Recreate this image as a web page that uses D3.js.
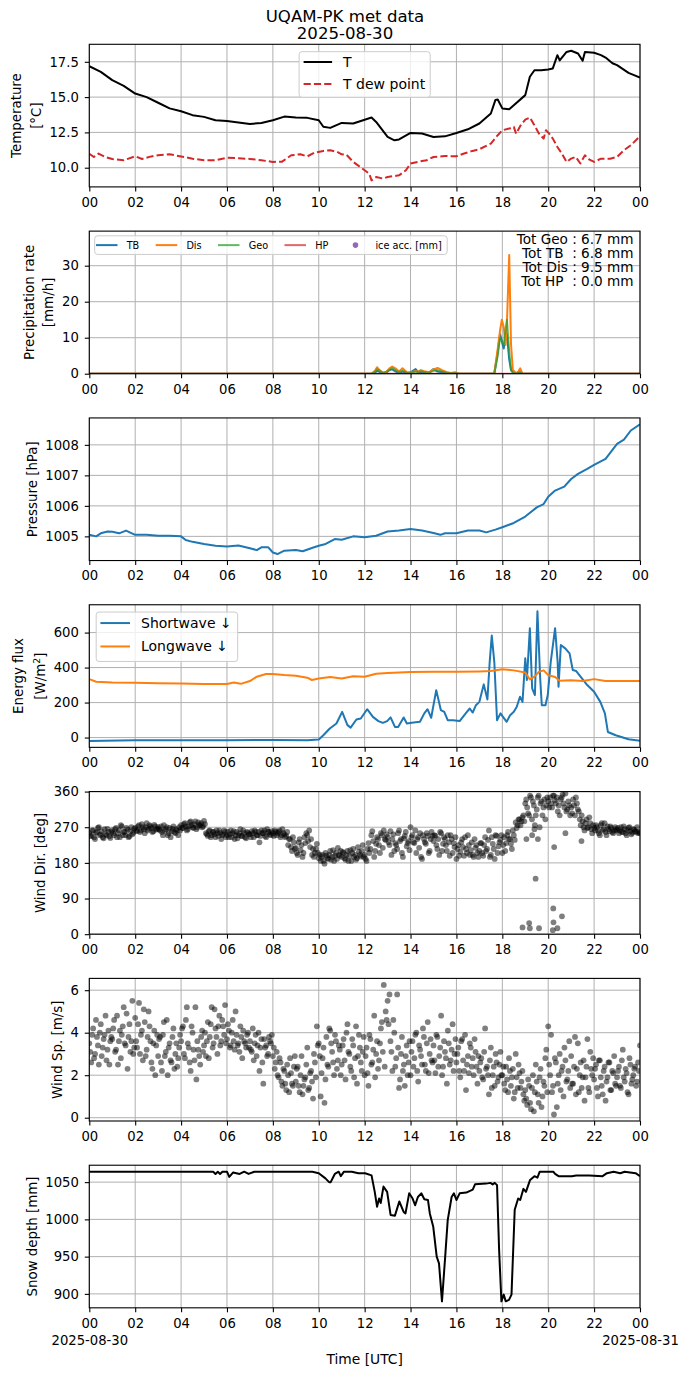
<!DOCTYPE html>
<html>
<head>
<meta charset="utf-8">
<script src="https://cdn.jsdelivr.net/npm/d3@7"></script>
<style>
	body { margin: 0; background: #fff; }
	svg { display: block; font-family: "DejaVu Sans", sans-serif; }
	.pre { white-space: pre; }
</style>
</head>
<body>
<svg id="fig" width="690" height="1377"></svg>
<script>
// ---- x axis (hours UTC) ----
const hourTicks = [0, 2, 4, 6, 8, 10, 12, 14, 16, 18, 20, 22, 24];
const hourLabels = ['00', '02', '04', '06', '08', '10', '12', '14', '16', '18', '20', '22', '00'];

// ---- y ticks ----
const tempTicks = [10, 12.5, 15, 17.5];
const precipTicks = [0, 10, 20, 30];
const presTicks = [1005, 1006, 1007, 1008];
const fluxTicks = [0, 200, 400, 600];
const dirTicks = [0, 90, 180, 270, 360];
const speedTicks = [0, 2, 4, 6];
const snowTicks = [900, 950, 1000, 1050];

// ---- temperature ----
const tHours = [0,0.5,1,1.5,2,2.5,3,3.5,4,4.5,5,5.5,6,6.5,7,7.5,8,8.5,9,9.5,10,10.2,10.5,11,11.5,12,12.3,12.5,13,13.3,13.5,14,14.5,15,15.5,16,16.5,17,17.5,17.7,17.8,18,18.3,18.5,19,19.2,19.4,19.7,20,20.2,20.4,20.5,20.8,21,21.3,21.5,21.6,22,22.3,22.5,22.8,23,23.5,24];
const tVals = [17.19,16.79,16.2,15.8,15.25,15.0,14.6,14.2,14.0,13.72,13.6,13.36,13.3,13.2,13.1,13.17,13.36,13.62,13.55,13.53,13.36,12.9,12.82,13.17,13.13,13.4,13.55,13.24,12.18,11.94,12.0,12.46,12.42,12.18,12.22,12.46,12.72,13.13,13.84,14.8,14.83,14.2,14.14,14.43,15.14,16.44,16.9,16.9,16.96,17.03,17.97,17.6,18.2,18.28,18.09,17.57,18.2,18.14,17.97,17.8,17.4,17.26,16.72,16.39];
const tdHours = [0,0.2,0.4,0.7,1,1.5,2,2.3,2.7,3,3.5,4,4.5,5,5.5,6,6.5,7,7.5,8,8.4,8.8,9.2,9.5,9.8,10.2,10.5,10.8,11,11.2,11.5,12,12.2,12.3,12.5,12.8,13,13.5,13.8,14,14.3,14.7,15,15.5,16,16.3,16.7,17,17.5,17.8,18,18.3,18.5,18.6,18.8,19,19.2,19.4,19.6,19.8,19.9,20,20.2,20.4,20.6,20.8,21,21.2,21.4,21.6,21.8,22,22.3,22.7,23,23.3,23.6,24];
const tdVals = [10.99,10.76,11.0,10.76,10.62,10.53,10.81,10.62,10.8,10.88,10.95,10.8,10.64,10.53,10.53,10.7,10.67,10.62,10.53,10.41,10.43,10.88,10.95,10.8,11.05,11.19,11.24,11.12,10.95,10.93,10.41,9.82,9.58,9.1,9.34,9.23,9.34,9.46,9.82,10.3,10.41,10.53,10.76,10.83,10.81,10.99,11.19,11.31,11.71,12.3,12.65,12.77,12.89,12.41,13.0,13.41,13.55,13.0,12.41,12.06,12.65,12.5,12.06,11.47,10.99,10.41,10.64,10.76,10.3,10.88,10.57,10.41,10.64,10.64,10.76,11.24,11.59,12.23];

// ---- precipitation rate [mm/h] ----
const precipHours = [0,12.3,12.45,12.54,12.65,12.8,12.95,13.07,13.2,13.36,13.5,13.65,13.84,14.0,14.22,14.32,14.45,14.6,14.8,15.0,15.18,15.37,15.56,15.75,15.95,16.1,17.65,17.8,17.9,17.98,18.06,18.14,18.2,18.3,18.38,18.46,18.6,18.7,18.78,18.88,24];
const precipTB  = [0,0,0.3,0.8,0.5,0.1,0.3,1.0,1.2,0.6,0.2,0.6,0.2,0.4,1.3,0.5,0.4,0.3,0.2,1.3,0.6,0.4,0.2,0,0.1,0,0,6,11,9,7,10,11,4,1,0.5,0,0.2,0.3,0,0];
const precipDis = [0,0,0.8,1.8,1.0,0.3,0.5,1.4,2.0,1.4,0.6,1.5,0.4,0.3,0.8,0.5,1.0,0.7,0.4,1.2,1.6,1.0,0.5,0.2,0.4,0,0,7,12,15,13,8,14,33,8,1,0.2,0.6,1.5,0,0];
const precipGeo = [0,0,0.5,1.2,0.8,0.2,0.6,1.0,1.5,0.9,0.4,0.8,0.3,0.2,0.6,0.4,0.7,0.5,0.3,0.8,1.0,0.6,0.3,0.1,0.2,0,0,5,10,9,8,12,15,6,1,0.3,0,0.3,0.5,0,0];
const precipHP  = [0,0,0,0,0,0,0,0,0,0,0,0,0,0,0,0,0,0,0,0,0,0,0,0,0,0,0,0,0,0,0,0,0,0,0,0,0,0,0,0,0];
const precipTotals = ['Tot Geo : 6.7 mm', 'Tot TB  : 6.8 mm', 'Tot Dis : 9.5 mm', 'Tot HP  : 0.0 mm'];

// ---- pressure [hPa] ----
const pHours = [0,0.3,0.5,0.8,1,1.3,1.6,2,2.5,3,3.5,4,4.2,4.5,5,5.5,6,6.5,7,7.3,7.5,7.8,8,8.2,8.5,9,9.3,9.7,10,10.3,10.7,11,11.5,12,12.5,13,13.5,14,14.5,15,15.3,15.5,16,16.5,17,17.3,17.7,18,18.5,19,19.5,19.8,20,20.3,20.7,21,21.3,21.7,22,22.5,23,23.3,23.6,24];
const pVals = [1005.05,1005.0,1005.1,1005.16,1005.15,1005.1,1005.19,1005.05,1005.05,1005.02,1005.02,1005.0,1004.88,1004.82,1004.75,1004.69,1004.67,1004.7,1004.61,1004.55,1004.64,1004.64,1004.47,1004.42,1004.53,1004.55,1004.51,1004.62,1004.69,1004.75,1004.91,1004.89,1005.0,1004.97,1005.02,1005.16,1005.19,1005.24,1005.19,1005.11,1005.05,1005.1,1005.1,1005.19,1005.19,1005.13,1005.22,1005.3,1005.44,1005.65,1005.95,1006.06,1006.3,1006.5,1006.63,1006.88,1007.05,1007.21,1007.34,1007.54,1008.03,1008.17,1008.47,1008.67];

// ---- energy flux [W/m2] ----
const swHours = [0,2,4,6,8,9.5,10,10.2,10.48,10.77,11.02,11.25,11.39,11.64,11.83,12.11,12.36,12.6,12.79,12.98,13.13,13.32,13.46,13.7,13.84,14.13,14.41,14.6,14.74,14.9,15.12,15.32,15.47,15.62,15.85,16.14,16.43,16.58,16.71,16.85,17.0,17.19,17.35,17.45,17.54,17.65,17.77,17.92,18.06,18.19,18.34,18.5,18.63,18.77,18.88,19.0,19.07,19.2,19.3,19.42,19.53,19.65,19.72,19.88,19.98,20.11,20.3,20.41,20.45,20.55,20.74,20.93,21.07,21.22,21.41,21.7,22.0,22.27,22.47,22.6,22.94,23.5,24];
const swVals = [-19,-15,-16,-15,-14,-16,-11,13,52,80,147,71,57,103,109,162,118,94,84,94,115,61,61,115,80,86,90,138,162,113,271,157,147,99,99,94,143,166,143,185,204,304,218,433,583,433,99,138,113,90,128,147,176,233,204,453,329,625,281,243,722,338,185,185,243,433,625,433,290,529,510,481,386,380,348,300,262,204,138,32,13,-10,-19];
const lwHours = [0,0.3,1,2,3,4,5,6,6.3,6.6,7,7.3,7.7,8,8.5,9,9.5,9.7,10,10.5,11,11.5,12,12.5,13,14,15,16,17,17.5,18,18.5,19,19.2,19.4,19.6,19.8,20,20.3,20.5,21,21.5,22,22.5,23,24];
const lwVals = [334,319,315,313,311,309,306,306,315,307,323,348,363,363,357,353,342,329,338,346,338,351,348,365,369,374,376,376,378,380,390,384,372,332,348,376,384,357,346,325,327,323,334,323,323,323];

// ---- wind direction [deg], 5-min samples (A) and the sample 2.5 min later (B) ----
const windDirA = [
	255,248,262,240,258,270,252,245,265,250,258,243,
	262,250,268,255,245,272,258,250,264,247,270,256,
	268,260,275,262,270,255,280,266,272,258,276,264,
	270,262,258,275,265,250,268,260,272,255,262,270,
	275,268,280,262,272,285,270,278,265,282,275,270,
	286,255,248,262,250,258,245,255,262,240,252,258,
	250,245,262,255,240,258,250,265,248,255,242,256,
	252,260,245,258,250,232,262,255,248,265,258,250,
	255,262,250,258,245,265,252,248,225,240,210,232,
	218,200,240,225,205,230,250,262,240,215,205,228,
	192,185,200,178,198,190,210,195,185,205,218,198,
	195,205,188,210,198,185,215,200,192,208,196,225,
	200,185,230,215,260,195,228,240,205,250,262,238,
	245,225,200,252,230,215,262,240,195,248,222,235,
	270,250,230,205,245,255,190,240,228,248,210,258,
	235,248,215,200,255,228,240,210,232,250,205,220,
	190,225,208,240,198,215,250,200,232,195,218,205,
	210,230,198,245,215,262,200,228,190,248,222,238,
	205,245,230,258,240,215,250,282,275,290,285,300,
	330,320,300,345,335,275,315,350,330,300,340,325,
	335,345,320,350,330,310,300,345,330,355,315,325,
	320,340,300,330,310,275,285,262,290,270,280,255,
	268,275,262,250,280,265,258,272,260,268,255,270,
	262,255,270,258,265,250,268,260,256,264,258,255
];
const windDirB = [
	248,262,245,256,268,250,260,242,252,266,247,258,
	255,265,245,262,275,250,258,268,245,260,252,266,
	262,272,258,278,265,270,262,275,268,260,272,266,
	265,272,250,262,270,255,245,266,258,265,250,262,
	268,278,272,265,282,275,268,285,270,276,280,272,
	278,252,260,245,258,252,262,248,256,250,262,245,
	258,252,245,260,250,242,255,248,262,245,258,252,
	245,255,262,250,258,248,255,262,245,258,252,260,
	248,258,255,262,250,255,245,258,240,220,245,215,
	205,232,212,195,245,255,235,220,200,195,215,205,
	200,195,185,205,192,200,188,212,198,190,200,210,
	208,192,200,185,212,205,195,188,220,200,210,195,
	190,215,205,250,235,210,245,225,255,218,240,252,
	232,260,240,210,225,255,235,205,242,258,230,212,
	245,232,262,240,218,195,250,232,255,205,240,248,
	250,225,240,258,210,245,225,250,198,240,230,245,
	215,198,232,220,245,205,225,212,200,240,225,195,
	230,205,225,210,238,195,245,215,250,205,232,250,
	225,210,250,240,228,262,238,268,290,275,295,285,
	340,305,350,290,325,300,345,270,335,320,290,345,
	320,330,350,338,345,325,340,352,320,310,335,300,
	305,325,345,315,290,300,270,280,268,295,265,275,
	262,270,255,275,262,280,250,265,272,258,262,265,
	268,262,258,272,255,262,270,252,265,260,270,258
];
const windDirExtraHours = [18.88,19.05,19.17,19.2,19.3,19.4,19.45,19.55,19.6,20.2,20.22,20.23,20.26,20.4,20.6,20.75,21.45,24];
const windDirExtra = [17,240,28,15,250,265,140,240,15,10,65,30,220,15,45,255,235,255];

// ---- wind speed [m/s], same sampling ----
const windSpA = [
	3.5,2.6,4.2,3.0,3.8,2.5,4.4,3.3,3.9,2.7,4.1,3.6,
	3.7,4.6,3.2,2.5,4.1,3.9,5.2,3.4,2.3,4.4,3.6,3.0,
	4.7,3.3,5.4,3.9,2.7,4.5,3.2,5.0,3.6,2.3,4.1,3.4,
	2.9,3.8,2.2,4.5,3.1,2.0,3.5,2.6,4.2,3.0,2.4,3.3,
	3.6,4.3,2.8,5.2,3.3,2.2,4.0,2.7,1.8,3.2,2.5,4.1,
	3.4,2.9,4.5,3.8,5.2,3.5,4.2,3.0,4.8,3.6,4.3,5.3,
	3.7,4.1,3.4,4.6,3.2,3.9,3.5,4.3,2.8,3.6,3.3,4.0,
	3.6,3.1,2.7,3.9,3.4,2.2,3.7,1.6,3.3,2.9,3.8,3.5,
	2.9,2.3,3.1,1.9,2.6,1.5,2.2,1.3,2.0,2.8,1.6,2.4,
	1.7,2.4,1.2,2.9,1.5,1.9,3.3,1.4,2.2,0.9,2.6,4.3,
	3.5,1.0,2.8,0.7,3.8,2.4,4.1,3.1,2.0,3.6,2.7,3.2,
	2.5,3.7,1.8,4.4,3.0,2.2,3.4,2.8,1.6,3.9,2.6,3.1,
	2.0,3.3,1.5,3.7,2.6,4.8,3.0,2.3,3.5,4.5,6.25,5.0,
	5.5,5.8,3.1,4.6,2.4,5.8,1.4,3.0,2.2,1.5,3.4,2.6,
	2.0,3.6,2.8,4.0,1.7,3.2,2.5,3.8,2.2,4.5,3.0,2.7,
	3.4,2.1,3.8,2.9,4.8,2.4,3.1,1.6,3.5,2.7,4.4,3.0,
	2.6,3.3,1.9,3.7,2.2,1.3,2.9,3.5,2.4,2.0,3.1,1.6,
	2.2,2.8,1.8,4.2,2.4,1.1,3.3,2.0,1.5,2.6,1.9,3.1,
	2.0,1.6,2.4,1.2,2.2,1.9,0.9,3.0,1.4,2.1,1.7,1.1,
	1.3,0.6,1.5,0.4,2.0,1.2,1.7,0.7,2.3,1.0,1.5,3.2,
	4.3,2.0,1.2,0.15,2.6,1.6,3.0,2.2,1.0,2.7,1.8,3.6,
	2.9,1.6,3.8,2.3,1.2,2.6,1.9,0.8,2.4,1.4,3.1,2.0,
	1.8,2.5,1.0,2.7,1.5,2.2,0.8,1.9,2.6,1.3,2.1,1.6,
	1.9,2.4,1.4,3.2,1.7,2.1,1.1,2.5,1.8,2.3,1.5,2.6
];
const windSpB = [
	3.1,3.9,2.8,4.6,3.4,4.0,2.9,3.7,4.8,3.2,2.5,3.8,
	4.2,3.1,4.8,3.6,2.8,4.3,3.5,4.9,3.8,3.1,5.5,3.3,
	3.6,4.4,3.0,4.1,5.1,2.9,3.8,4.3,2.6,3.5,2.0,3.9,
	3.7,2.6,3.9,2.9,4.6,3.3,2.7,3.8,2.3,3.5,2.8,3.9,
	4.2,3.0,4.6,3.5,2.6,4.3,3.2,5.2,3.6,2.9,3.8,3.1,
	4.0,3.6,2.8,4.4,3.3,5.1,3.8,4.3,3.4,4.6,3.9,3.5,
	4.4,3.3,4.0,3.6,5.0,3.4,3.1,3.8,4.1,3.5,3.9,3.3,
	3.2,4.2,3.5,2.9,4.0,3.3,2.6,3.7,3.4,3.0,3.6,3.9,
	3.3,2.6,2.0,2.8,1.7,2.3,1.6,2.5,1.2,2.1,1.5,2.9,
	2.3,1.5,2.0,1.1,1.8,2.5,1.3,2.1,1.7,3.0,1.9,3.4,
	2.9,2.1,3.3,1.8,2.5,4.2,3.5,2.6,3.9,2.3,3.4,2.0,
	3.4,2.7,4.0,3.1,2.4,3.7,1.9,4.3,2.9,3.3,2.2,3.8,
	2.9,2.1,3.9,2.5,3.2,1.9,3.6,2.7,4.2,3.1,2.4,4.6,
	4.4,3.6,2.2,4.0,2.8,3.3,1.8,3.8,2.5,2.9,2.0,3.6,
	3.1,2.4,3.9,2.2,3.4,2.9,4.2,2.5,3.5,2.1,3.7,2.6,
	2.7,3.9,2.4,3.3,2.0,3.6,2.8,4.1,2.5,3.2,2.2,3.7,
	3.0,2.2,3.6,2.7,3.9,2.5,2.1,3.3,2.8,3.7,2.4,2.9,
	2.6,1.9,3.1,2.3,2.0,2.7,1.4,2.4,3.0,1.7,2.5,2.0,
	2.4,1.3,1.8,2.8,1.5,2.3,1.2,1.9,2.5,1.4,2.2,0.8,
	0.9,1.8,0.7,1.4,0.3,2.5,1.1,1.9,0.5,1.7,2.8,1.2,
	2.5,3.9,1.5,2.8,0.5,2.0,1.3,2.4,3.3,1.7,2.2,1.4,
	1.6,2.4,1.1,3.5,2.0,1.4,2.7,1.9,3.7,1.2,2.3,2.8,
	2.3,1.4,2.7,1.9,1.1,2.4,1.7,2.6,1.3,2.2,2.9,1.5,
	2.2,1.5,2.7,1.9,2.3,1.2,2.8,1.6,2.0,2.4,1.7,2.2
];
const windSpExtraHours = [24];
const windSpExtra = [3.4];

// ---- snow depth [mm] ----
const snowHours = [0,5.4,5.5,5.6,5.7,5.8,6.0,6.1,6.27,6.55,6.75,6.94,7.19,9.72,10.0,10.29,10.45,10.52,10.7,10.87,10.96,11.1,11.44,11.73,12.02,12.3,12.44,12.54,12.63,12.7,12.82,12.98,13.13,13.32,13.51,13.7,13.78,13.94,14.09,14.2,14.32,14.47,14.6,14.76,14.84,14.99,15.14,15.24,15.37,15.51,15.62,15.79,15.89,16.0,16.14,16.43,16.71,16.81,17.29,17.48,17.58,17.67,17.77,17.86,17.96,18.06,18.15,18.29,18.4,18.54,18.69,18.78,18.92,19.03,19.21,19.4,19.53,19.63,20.22,20.3,20.45,21.03,21.22,21.79,22.37,22.56,22.85,23.14,23.33,23.81,24];
const snowVals = [1064,1064,1061,1064,1061,1064,1064,1057,1063,1061,1064,1061,1064,1064,1062,1055,1050,1050,1061,1064,1058,1064,1064,1062,1062,1059,1037,1017,1028,1022,1044,1037,1006,1005,1024,1010,1008,1035,1028,1019,1030,1035,1027,1026,1008,990,950,941,890,950,999,1030,1035,1026,1035,1036,1040,1047,1048,1049,1047,1049,1046,959,890,899,890,892,899,1013,1028,1026,1041,1037,1053,1058,1056,1064,1064,1061,1058,1058,1059,1059,1058,1062,1064,1062,1064,1062,1058];

// ---------------------------------------------------------------
const W = 690;
const H = 1377;
const svg = d3.select('#fig');
svg.append('rect').attr('width', W).attr('height', H).attr('fill', '#fff');

const x = d3.scaleLinear().domain([0, 24]).range([89.3, 640]);
const panelStep = 186.82;
const panelH = 142.6;
const pad5 = (vals) => {
	const lo = d3.min(vals), hi = d3.max(vals), s = (hi - lo) * 0.05;
	return [lo - s, hi + s];
};
const fiveMin = windDirA.map((_, i) => i / 12);
const fiveMinB = windDirB.map((_, i) => i / 12 + 2.5 / 60);

function makePanel(i, domain, ticks) {
	const top = 44.3 + i * panelStep;
	const bottom = top + panelH;
	const y = d3.scaleLinear().domain(domain).range([bottom, top]);
	const g = svg.append('g');

	g.append('g').selectAll('line').data(hourTicks).join('line')
		.attr('x1', d => x(d)).attr('x2', d => x(d))
		.attr('y1', top).attr('y2', bottom)
		.attr('stroke', '#b0b0b0').attr('stroke-width', 1);
	g.append('g').selectAll('line').data(ticks).join('line')
		.attr('x1', x(0)).attr('x2', x(24))
		.attr('y1', d => y(d)).attr('y2', d => y(d))
		.attr('stroke', '#b0b0b0').attr('stroke-width', 1);

	svg.append('clipPath').attr('id', 'clip' + i)
		.append('rect')
		.attr('x', x(0)).attr('y', top)
		.attr('width', x(24) - x(0)).attr('height', bottom - top);
	const plot = g.append('g').attr('clip-path', `url(#clip${i})`);
	return { g, plot, y, top, bottom };
}

function styleAxis(a) {
	a.attr('font-size', 13.2).attr('font-family', null);
	a.select('.domain').remove();
	a.selectAll('.tick line').attr('stroke', '#000').attr('stroke-width', 1.1);
	a.selectAll('.tick text').attr('fill', '#000');
}

function finishPanel(p, ticks, fmt, lines, gap) {
	p.g.append('rect')
		.attr('x', x(0)).attr('y', p.top)
		.attr('width', x(24) - x(0)).attr('height', p.bottom - p.top)
		.attr('fill', 'none').attr('stroke', '#000').attr('stroke-width', 1.1);

	const xa = p.g.append('g')
		.attr('transform', `translate(0,${p.bottom})`)
		.call(d3.axisBottom(x).tickValues(hourTicks).tickFormat((d, k) => hourLabels[k]).tickSize(4.5).tickPadding(6));
	styleAxis(xa);

	const ya = p.g.append('g')
		.attr('transform', `translate(${x(0)},0)`)
		.call(d3.axisLeft(p.y).tickValues(ticks).tickFormat(fmt).tickSize(4.5).tickPadding(6));
	styleAxis(ya);

	const bb = ya.node().getBBox();
	const base = x(0) + bb.x - 5.6 - 3.1;
	const t = p.g.append('text')
		.attr('transform', `translate(${base},${(p.top + p.bottom) / 2}) rotate(-90)`)
		.attr('text-anchor', 'middle')
		.attr('font-size', 13.4);
	lines.forEach((ln, k) => {
		const ts = t.append('tspan').attr('x', 0).attr('y', -(lines.length - 1 - k) * gap);
		if (typeof ln === 'string') ts.text(ln);
		else ln(ts);
	});
	return xa;
}

function drawLine(p, hours, vals, color, width, dash) {
	const path = p.plot.append('path')
		.datum(d3.zip(hours, vals))
		.attr('fill', 'none')
		.attr('stroke', color)
		.attr('stroke-width', width)
		.attr('stroke-linejoin', 'round')
		.attr('d', d3.line().x(d => x(d[0])).y(d => p.y(d[1])));
	if (dash) path.attr('stroke-dasharray', dash);
	return path;
}

function legendBox(g, x0, y0, w, h) {
	g.insert('rect', ':first-child')
		.attr('x', x0).attr('y', y0).attr('width', w).attr('height', h)
		.attr('rx', 2.8)
		.attr('fill', '#fff').attr('fill-opacity', 0.8)
		.attr('stroke', '#cccccc').attr('stroke-width', 1);
}

// ---- title ----
svg.append('text').attr('x', 345).attr('y', 22.3).attr('text-anchor', 'middle')
	.attr('font-size', 16.6).text('UQAM-PK met data');
svg.append('text').attr('x', 345).attr('y', 39.2).attr('text-anchor', 'middle')
	.attr('font-size', 16.6).text('2025-08-30');

// ---- 1. temperature ----
{
	const p = makePanel(0, pad5(tVals.concat(tdVals)), tempTicks);
	drawLine(p, tHours, tVals, '#000', 2);
	drawLine(p, tdHours, tdVals, '#d62728', 2, '7.2,3.1');
	finishPanel(p, tempTicks, d3.format('.1f'), ['Temperature', '[°C]'], 19.3);

	const items = [
		{ name: 'T', color: '#000', dash: null },
		{ name: 'T dew point', color: '#d62728', dash: '7.2,3.1' }
	];
	const lg = p.g.append('g');
	const probe = lg.append('text').attr('font-size', 14).text(items[1].name);
	const tw = probe.node().getComputedTextLength();
	probe.remove();
	const w = 44 + tw + 5;
	const x0 = (x(0) + x(24)) / 2 - w / 2;
	const y0 = p.top + 7.4;
	items.forEach((it, k) => {
		const cy = y0 + 10.3 + k * 22;
		const ln = lg.append('line').attr('x1', x0 + 4.5).attr('x2', x0 + 33).attr('y1', cy).attr('y2', cy)
			.attr('stroke', it.color).attr('stroke-width', 2);
		if (it.dash) ln.attr('stroke-dasharray', it.dash);
		lg.append('text').attr('x', x0 + 44).attr('y', cy + 5).attr('font-size', 14).text(it.name);
	});
	legendBox(lg, x0, y0, w, 45.6);
}

// ---- 2. precipitation ----
{
	const maxP = d3.max([].concat(precipTB, precipDis, precipGeo, precipHP));
	const p = makePanel(1, [0, maxP * 1.2], precipTicks);
	drawLine(p, precipHours, precipTB, '#1f77b4', 2);
	drawLine(p, precipHours, precipDis, '#ff7f0e', 2);
	drawLine(p, precipHours, precipGeo, '#2ca02c', 2).attr('stroke-opacity', 0.75);
	drawLine(p, precipHours, precipHP, '#d62728', 2).attr('stroke-opacity', 0.7);
	finishPanel(p, precipTicks, d3.format('d'), ['Precipitation rate', '[mm/h]'], 19.3);

	const items = [
		{ name: 'TB', color: '#1f77b4', op: 1 },
		{ name: 'Dis', color: '#ff7f0e', op: 1 },
		{ name: 'Geo', color: '#2ca02c', op: 0.75 },
		{ name: 'HP', color: '#d62728', op: 0.7 },
		{ name: 'ice acc. [mm]', color: '#9467bd', op: 1, dot: true }
	];
	const lg = p.g.append('g');
	const x0 = x(0) + 5.4;
	const y0 = p.top + 4.7;
	const cy = y0 + 9.3;
	const spacing = 16.4;
	let cx = x0 + 1.3;
	items.forEach(it => {
		if (it.dot) {
			lg.append('circle').attr('cx', cx + 10.75).attr('cy', cy).attr('r', 2.8)
				.attr('fill', it.color);
		} else {
			lg.append('line').attr('x1', cx).attr('x2', cx + 21.5).attr('y1', cy).attr('y2', cy)
				.attr('stroke', it.color).attr('stroke-width', 2).attr('stroke-opacity', it.op);
		}
		const t = lg.append('text').attr('x', cx + 30.7).attr('y', cy + 3.5).attr('font-size', 9.7).text(it.name);
		cx = cx + 30.7 + t.node().getComputedTextLength() + spacing;
	});
	legendBox(lg, x0, y0, cx - spacing + 5.5 - x0, 18.6);

	precipTotals.forEach((s, k) => {
		p.g.append('text').attr('class', 'pre')
			.attr('x', 633.5).attr('y', p.top + 13 + k * 14)
			.attr('text-anchor', 'end').attr('font-size', 13.6).text(s);
	});
}

// ---- 3. pressure ----
{
	const p = makePanel(2, pad5(pVals), presTicks);
	drawLine(p, pHours, pVals, '#1f77b4', 2);
	finishPanel(p, presTicks, d3.format('d'), ['Pressure [hPa]'], 0);
}

// ---- 4. energy flux ----
{
	const p = makePanel(3, pad5(swVals.concat(lwVals)), fluxTicks);
	drawLine(p, swHours, swVals, '#1f77b4', 2);
	drawLine(p, lwHours, lwVals, '#ff7f0e', 2);
	finishPanel(p, fluxTicks, d3.format('d'), ['Energy flux', ts => {
		ts.text('[W/m');
		ts.append('tspan').attr('dy', -5).attr('font-size', 9.4).text('2');
		ts.append('tspan').attr('dy', 5).text(']');
	}], 21.5);

	const items = [
		{ name: 'Shortwave \u2193', color: '#1f77b4' },
		{ name: 'Longwave \u2193', color: '#ff7f0e' }
	];
	const lg = p.g.append('g');
	const probe = lg.append('text').attr('font-size', 14).text(items[0].name);
	const tw = probe.node().getComputedTextLength();
	probe.remove();
	const x0 = x(0) + 6.9;
	const y0 = p.top + 7.3;
	items.forEach((it, k) => {
		const cy = y0 + 11 + k * 23.4;
		lg.append('line').attr('x1', x0 + 4.2).attr('x2', x0 + 33.8).attr('y1', cy).attr('y2', cy)
			.attr('stroke', it.color).attr('stroke-width', 2);
		lg.append('text').attr('x', x0 + 44.8).attr('y', cy + 5).attr('font-size', 14).text(it.name);
	});
	legendBox(lg, x0, y0, 44.8 + tw + 6, 49.4);
}

// ---- 5. wind direction ----
{
	const p = makePanel(4, [0, 360], dirTicks);
	const pts = d3.zip(fiveMin, windDirA)
		.concat(d3.zip(fiveMinB, windDirB))
		.concat(d3.zip(windDirExtraHours, windDirExtra));
	p.plot.append('g').selectAll('circle').data(pts).join('circle')
		.attr('cx', d => x(d[0])).attr('cy', d => p.y(d[1])).attr('r', 2.9)
		.attr('fill', '#000').attr('fill-opacity', 0.5);
	finishPanel(p, dirTicks, d3.format('d'), ['Wind Dir. [deg]'], 0);
}

// ---- 6. wind speed ----
{
	const all = windSpA.concat(windSpB, windSpExtra);
	const p = makePanel(5, pad5(all), speedTicks);
	const pts = d3.zip(fiveMin, windSpA)
		.concat(d3.zip(fiveMinB, windSpB))
		.concat(d3.zip(windSpExtraHours, windSpExtra));
	p.plot.append('g').selectAll('circle').data(pts).join('circle')
		.attr('cx', d => x(d[0])).attr('cy', d => p.y(d[1])).attr('r', 2.9)
		.attr('fill', '#000').attr('fill-opacity', 0.5);
	finishPanel(p, speedTicks, d3.format('d'), ['Wind Sp. [m/s]'], 0);
}

// ---- 7. snow depth ----
{
	const p = makePanel(6, pad5(snowVals), snowTicks);
	drawLine(p, snowHours, snowVals, '#000', 2);
	const xa = finishPanel(p, snowTicks, d3.format('d'), ['Snow depth [mm]'], 0);
	const dates = { 0: '2025-08-30', 24: '2025-08-31' };
	xa.selectAll('.tick text').each(function (d) {
		if (dates[d]) {
			d3.select(this).append('tspan').attr('x', 0).attr('dy', '1.28em').text(dates[d]);
		}
	});
	svg.append('text')
		.attr('x', (x(0) + x(24)) / 2).attr('y', 1364)
		.attr('text-anchor', 'middle').attr('font-size', 13.8)
		.text('Time [UTC]');
}
</script>
</body>
</html>
